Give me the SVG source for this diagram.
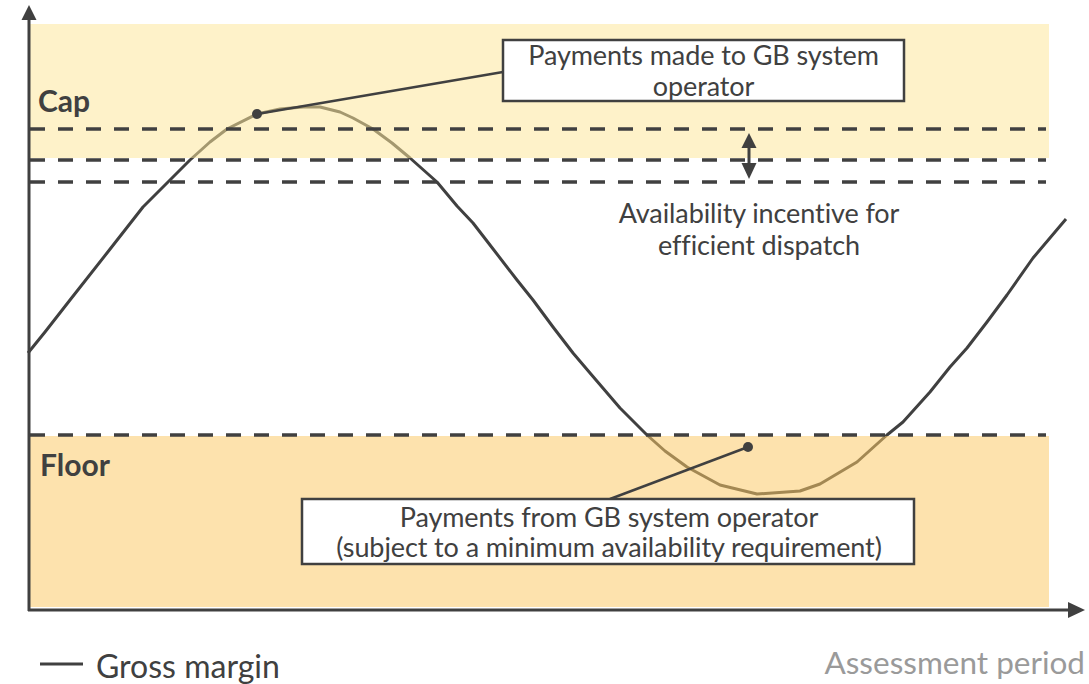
<svg xmlns="http://www.w3.org/2000/svg" width="1089" height="684" viewBox="0 0 1089 684">
  <style>
    .lbl { font-family: Lato, "Noto Sans", "Liberation Sans", sans-serif; fill: #404040; }
    .band-title { font-size: 30px; font-weight: bold; }
    .note { font-size: 27px; letter-spacing: -0.1px; text-anchor: middle; }
    .dash { stroke: #404040; stroke-width: 3.6; stroke-dasharray: 15 13; fill: none; }
    .axis { stroke: #404040; stroke-width: 3; fill: none; }
    .box { fill: #ffffff; stroke: #404040; stroke-width: 2.5; }
    .leader { stroke: #404040; stroke-width: 2.5; fill: none; }
  </style>

  <rect width="1089" height="684" fill="#ffffff"/>

  <!-- gross margin curve (drawn under the translucent bands so it tints inside them) -->
  <g id="gross-margin-curve">
    <path fill="none" stroke="#404040" stroke-width="3" stroke-linejoin="round"
      d="M28,353 L45,332 L70,300 L107,253 L143,207 L167,183 L190,160 L210,142 L227,129 L257,114 L280,109 L303,107 L320,107 L340,112 L353,118 L373,129 L392,143 L410,158 L437,182 L457,206 L473,223 L490,245 L517,280 L533,300 L553,327 L573,353 L590,373 L620,408 L647,435 L665,451 L687,467 L720,485 L757,494 L800,491 L820,484 L857,462 L887,435 L903,422 L930,392 L950,367 L967,348 L987,322 L1007,295 L1033,258 L1066,219"/>
  </g>

  <!-- cap and floor bands -->
  <g id="cap-band">
    <rect x="30" y="24" width="1019" height="134" fill="#FDE699" fill-opacity="0.53"/>
    <text class="lbl band-title" x="38" y="112">Cap</text>
  </g>
  <g id="floor-band">
    <rect x="30" y="436" width="1019" height="171" fill="#FBC864" fill-opacity="0.53"/>
    <text class="lbl band-title" x="40" y="476">Floor</text>
  </g>

  <!-- threshold lines -->
  <g id="thresholds">
    <line class="dash" x1="30" y1="129" x2="1046" y2="129"/>
    <line class="dash" x1="30" y1="160" x2="1046" y2="160"/>
    <line class="dash" x1="30" y1="182" x2="1046" y2="182"/>
    <line class="dash" x1="30" y1="435" x2="1046" y2="435"/>
  </g>

  <!-- axes -->
  <g id="axes">
    <line class="axis" x1="29" y1="611" x2="29" y2="18"/>
    <path d="M21.5,20 L29,5 L36.5,20 z" fill="#404040"/>
    <line class="axis" x1="28" y1="610" x2="1070" y2="610"/>
    <path d="M1068,602 L1085,610 L1068,618 z" fill="#404040"/>
  </g>

  <!-- connectors -->
  <g id="connectors">
    <line class="leader" x1="257" y1="114" x2="503" y2="72"/>
    <circle cx="257" cy="114" r="5" fill="#404040"/>
    <line class="leader" x1="748" y1="447" x2="610" y2="499"/>
    <circle cx="748" cy="447" r="5" fill="#404040"/>
    <line stroke="#404040" stroke-width="3" x1="749" y1="146" x2="749" y2="166"/>
    <path d="M741.5,148 L749,133 L756.5,148 z" fill="#404040"/>
    <path d="M741.5,163 L749,179 L756.5,163 z" fill="#404040"/>
  </g>

  <g id="payments-to-operator">
    <rect class="box" x="503" y="40" width="401" height="61"/>
    <text class="lbl note" x="703.5" y="65">Payments made to GB system</text>
    <text class="lbl note" x="703.5" y="96">operator</text>
  </g>

  <g id="availability-incentive">
    <text class="lbl note" x="759" y="223">Availability incentive for</text>
    <text class="lbl note" x="759" y="255">efficient dispatch</text>
  </g>

  <g id="payments-from-operator">
    <rect class="box" x="302" y="499" width="612" height="65"/>
    <text class="lbl note" x="609" y="527">Payments from GB system operator</text>
    <text class="lbl note" x="609" y="557">(subject to a minimum availability requirement)</text>
  </g>

  <!-- legend and axis caption -->
  <g id="legend">
    <line x1="40" y1="664" x2="83" y2="664" stroke="#404040" stroke-width="3"/>
    <text class="lbl" x="96" y="678" font-size="32">Gross margin</text>
  </g>
  <g id="axis-caption">
    <text x="1085" y="674" font-family="Lato, 'Noto Sans', 'Liberation Sans', sans-serif" font-size="31.5" fill="#9a9a9a" text-anchor="end">Assessment period</text>
  </g>
</svg>
